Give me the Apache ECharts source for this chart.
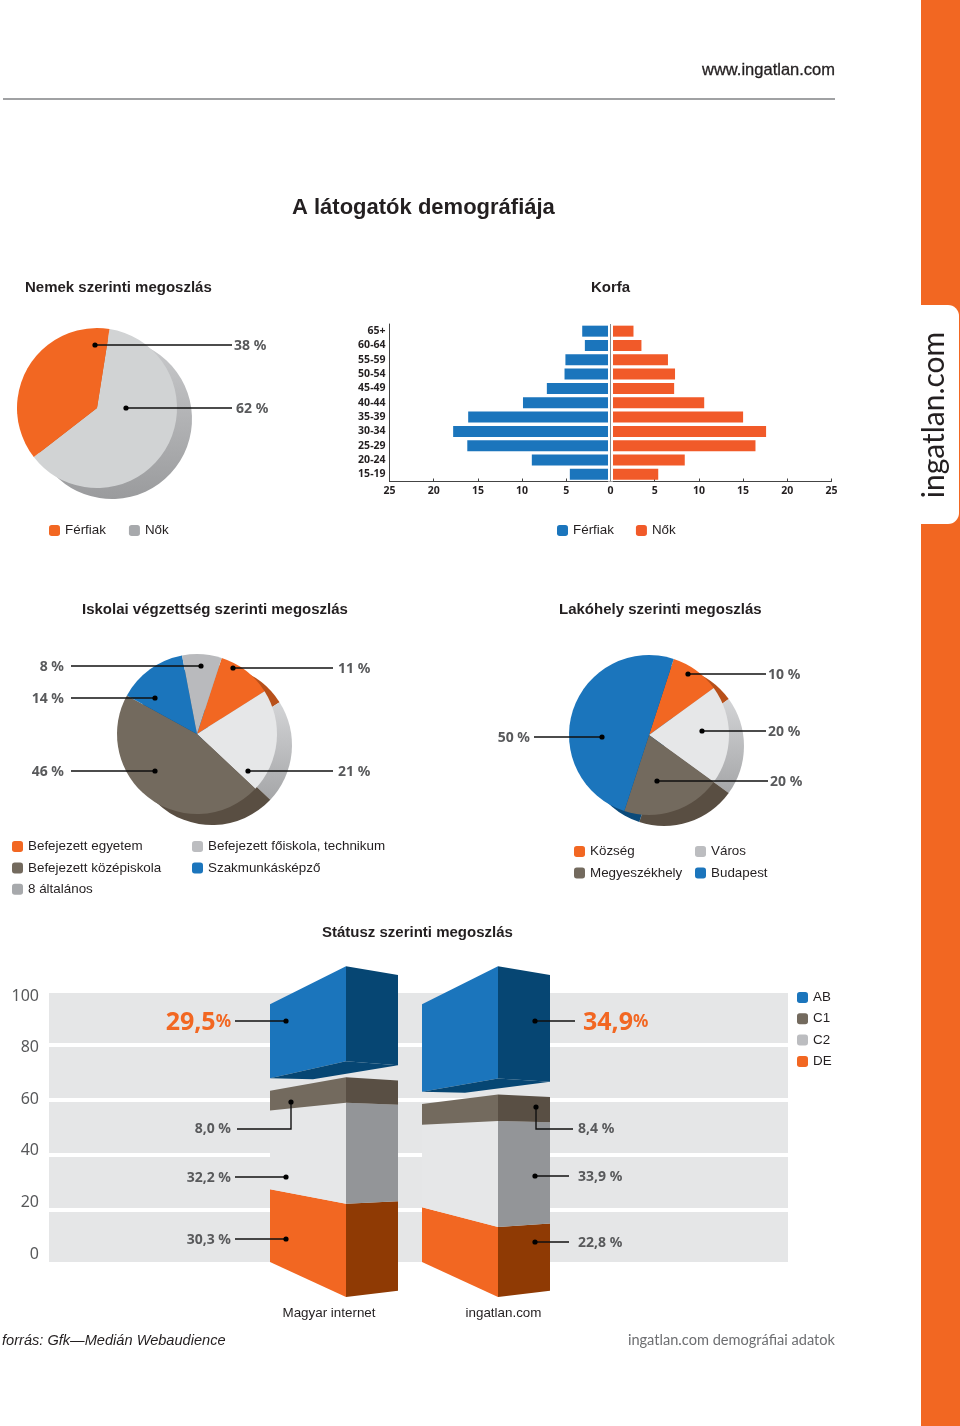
<!DOCTYPE html>
<html><head><meta charset="utf-8">
<style>html,body{margin:0;padding:0;background:#fff}#c{width:960px;height:1426px}</style>
<script src="https://cdn.jsdelivr.net/npm/echarts@6/dist/echarts.min.js"></script>
</head><body><div id="c"></div>
<script>
// ---- data ----
const genderNames = ['Nők', 'Férfiak'];
const genderValues = [62, 38];
const ageGroups = ['65+','60-64','55-59','50-54','45-49','40-44','35-39','30-34','25-29','20-24','15-19'];
const pyramidMen = [3.2,2.9,5.1,5.2,7.2,9.9,16.1,17.8,16.2,8.9,4.6];
const pyramidWomen = [2.6,3.5,6.5,7.3,7.2,10.6,15,17.6,16.4,8.4,5.4];
const eduNames = ['Befejezett egyetem','8 általános','Befejezett középiskola','Szakmunkásképző','Befejezett főiskola, technikum'];
const eduValues = [11, 21, 46, 14, 8];
const homeNames = ['Község','Város','Megyeszékhely','Budapest'];
const homeValues = [10, 20, 20, 50];
const statusCategories = ['Magyar internet','ingatlan.com'];
const statusDE = [30.3, 22.8];
const statusC2 = [32.2, 33.9];
const statusC1 = [8.0, 8.4];
const statusAB = [29.5, 34.9];
const statusTicks = [0,20,40,60,80,100];

// ---- style ----
const ORANGE='#f26722', PYR_ORANGE='#f15a29', BLUE='#1b75bc', BROWN='#736a5e', LGRAY='#e6e7e8', MGRAY='#bcbdc0', LEG_GRAY='#a7a9ac';
const TXT='#231f20', NUM='#58595b';
const HELV='"Liberation Sans", Arial, sans-serif', MYR='"Noto Sans", "Open Sans", sans-serif', HUM='Lato, "Noto Sans", sans-serif';
const vgrad=(a,b)=>({type:'linear',x:0,y:0,x2:0,y2:1,colorStops:[{offset:0,color:a},{offset:1,color:b}]});
const DEPTH=[15,11], R=80;

function pie3d(center,names,values,faces,sides,startAngle){
  const mk=(cols)=>names.map((n,i)=>({name:n,value:values[i],itemStyle:{color:cols[i]}}));
  const base={type:'pie',radius:R,startAngle,label:{show:false},labelLine:{show:false},silent:true,emphasis:{disabled:true},tooltip:{show:false}};
  return [
    {...base,z:1,center:[center[0]+DEPTH[0],center[1]+DEPTH[1]],data:mk(sides)},
    {...base,z:2,center:center,data:mk(faces)}
  ];
}

// perspective edges of the status columns, relative to a column's centre
const EDGES=[
 {dx:-64,dBase:0,k:0.8815,e:0.0003},
 {dx:12,dBase:35,k:1.13,e:0.000307},
 {dx:64,dBase:28.7,k:1.085,e:0.00025}
];
const GAP=5;
function statusSeries(name,front,side,values,starts,hasBottom){
  return {
    type:'custom',name,xAxisIndex:2,yAxisIndex:2,z:5,clip:false,silent:true,
    data:values.map((v,i)=>[i,starts[i],starts[i]+v]),
    encode:{x:0,y:[1,2]},
    renderItem(params,api){
      const c=api.coord([api.value(0),0]), unit=api.size([0,1])[1];
      const P=(e,v)=>[c[0]+e.dx, c[1]+e.dBase-unit*e.k*v*(1+e.e*v)];
      const s=api.value(1), t=api.value(2), [L,F,Rt]=EDGES;
      const kids=[
        {type:'polygon',shape:{points:[P(L,s),P(F,s),P(F,t),P(L,t)]},style:{fill:front}},
        {type:'polygon',shape:{points:[P(F,s),P(Rt,s),P(Rt,t),P(F,t)]},style:{fill:side}}
      ];
      if(hasBottom){
        const a=P(L,s),b=P(Rt,s);
        kids.push({type:'polygon',shape:{points:[a,P(F,s),b,[a[0]+43,a[1]+1]]},style:{fill:side}});
      }
      return {type:'group',children:kids};
    }
  };
}
const startsC2=statusDE.slice();
const startsC1=statusDE.map((v,i)=>v+statusC2[i]);
const startsAB=startsC1.map((v,i)=>v+statusC1[i]+GAP);

// ---- legends ----
function legend(left,top,orient,gap,items){
  return {show:true,left,top,orient,padding:0,itemGap:gap,itemWidth:11,itemHeight:11,icon:'roundRect',selectedMode:false,
    textStyle:{fontFamily:HELV,fontSize:13.4,color:TXT},
    data:items.map(([name,color])=>({name,itemStyle:{color,borderWidth:0}}))};
}

// ---- callouts ----
const pct=v=>v+' %';
const pct1=v=>v.toFixed(1).replace('.',',')+' %';
const gfx=[];
function line(pts){gfx.push({type:'polyline',z:100,silent:true,shape:{points:pts},style:{stroke:'#111',lineWidth:1.4,fill:null}});}
function dot(x,y){gfx.push({type:'circle',z:101,silent:true,shape:{cx:x,cy:y,r:2.6},style:{fill:'#000'}});}
function label(text,x,y,align){gfx.push({type:'text',z:100,silent:true,x,y:y+1,style:{text,font:'bold 14px '+MYR,fill:NUM,align,verticalAlign:'middle'}});}
function calloutR(text,dx,y,lineEnd,labelX){line([[dx,y],[lineEnd,y]]);dot(dx,y);label(text,labelX,y,'left');}
function calloutL(text,dx,y,lineStart,labelX){line([[lineStart,y],[dx,y]]);dot(dx,y);label(text,labelX,y,'right');}

calloutR(pct(genderValues[1]),95,345,232,234);
calloutR(pct(genderValues[0]),126,408,232,236);
calloutL(pct(eduValues[4]),201,666,71,64);
calloutL(pct(eduValues[3]),155,698,71,64);
calloutL(pct(eduValues[2]),155,771,71,64);
calloutR(pct(eduValues[0]),233,668,333,338);
calloutR(pct(eduValues[1]),248,771,333,338);
calloutL(pct(homeValues[3]),602,737,534,530);
calloutR(pct(homeValues[0]),688,674,766,768);
calloutR(pct(homeValues[1]),702,731,766,768);
calloutR(pct(homeValues[2]),657,781,768,770);
// status
calloutL(pct1(statusC2[0]),286,1177,235,231);
calloutL(pct1(statusDE[0]),286,1239,235,231);
calloutR(pct1(statusC2[1]),535,1176,569,578);
calloutR(pct1(statusDE[1]),535,1242,569,578);
line([[237,1129],[291,1129],[291,1102]]);dot(291,1102);label(pct1(statusC1[0]),231,1128,'right');
line([[573,1129],[536,1129],[536,1107]]);dot(536,1107);label(pct1(statusC1[1]),578,1128,'left');
line([[235,1021],[286,1021]]);dot(286,1021);
line([[535,1021],[575,1021]]);dot(535,1021);
const bigRich={a:{font:'bold 25px '+MYR,fill:ORANGE,verticalAlign:'middle'},b:{font:'bold 17px '+MYR,fill:ORANGE,verticalAlign:'middle'}};
const bigText=v=>'{a|'+v.toFixed(1).replace('.',',')+'}{b|%}';
gfx.push({type:'text',z:100,silent:true,x:231,y:1022.5,style:{text:bigText(statusAB[0]),rich:bigRich,align:'right',verticalAlign:'middle'}});
gfx.push({type:'text',z:100,silent:true,x:583,y:1022.5,style:{text:bigText(statusAB[1]),rich:bigRich,align:'left',verticalAlign:'middle'}});

// page furniture
gfx.push({type:'rect',z:-1,silent:true,shape:{x:921,y:0,width:39,height:1426},style:{fill:ORANGE}});
gfx.push({type:'rect',z:0,silent:true,shape:{x:915,y:305,width:44,height:219,r:[0,11,11,0]},style:{fill:'#fff'}});
gfx.push({type:'text',z:1,silent:true,x:934,y:415,rotation:Math.PI/2,style:{text:'ingatlan.com',font:'30px '+HUM,fill:TXT,align:'center',verticalAlign:'middle'}});
gfx.push({type:'line',z:1,silent:true,shape:{x1:3,y1:99,x2:835,y2:99},style:{stroke:'#808285',lineWidth:1.5}});
gfx.push({type:'text',z:1,silent:true,x:835,y:70.5,style:{text:'www.ingatlan.com',font:'16.5px '+HELV,fill:TXT,stroke:TXT,lineWidth:0.3,align:'right',verticalAlign:'middle'}});
gfx.push({type:'text',z:1,silent:true,x:2,y:1341,style:{text:'forrás: Gfk—Medián Webaudience',font:'italic 14.6px '+HELV,fill:TXT,align:'left',verticalAlign:'middle'}});
gfx.push({type:'text',z:1,silent:true,x:835,y:1340,style:{text:'ingatlan.com demográfiai adatok',font:'14.6px '+HUM,fill:'#6d6e71',align:'right',verticalAlign:'middle'}});

const head=(text,left,top)=>({text,left,top,padding:0,textStyle:{fontFamily:HELV,fontSize:15,fontWeight:'bold',color:TXT}});
const hideAxis={axisLine:{show:false},axisTick:{show:false},axisLabel:{show:false},splitLine:{show:false}};

const option={
  animation:false,backgroundColor:'#fff',
  title:[
    {text:'A látogatók demográfiája',left:292,top:197,padding:0,textStyle:{fontFamily:HELV,fontSize:22,fontWeight:'bold',color:TXT}},
    head('Nemek szerinti megoszlás',25,280),
    head('Korfa',591,280),
    head('Iskolai végzettség szerinti megoszlás',82,602),
    head('Lakóhely szerinti megoszlás',559,602),
    head('Státusz szerinti megoszlás',322,925)
  ],
  legend:[
    legend(49,524,'horizontal',23,[[genderNames[1],ORANGE],[genderNames[0],LEG_GRAY]]),
    legend(557,524,'horizontal',22,[['Férfiak',BLUE],['Nők',PYR_ORANGE]]),
    legend(12,840,'vertical',8.4,[[eduNames[0],ORANGE],[eduNames[2],BROWN],[eduNames[1],LEG_GRAY]]),
    legend(192,840,'vertical',8.4,[[eduNames[4],MGRAY],[eduNames[3],BLUE]]),
    legend(574,845,'vertical',8.5,[[homeNames[0],ORANGE],[homeNames[2],BROWN]]),
    legend(695,845,'vertical',8.5,[[homeNames[1],MGRAY],[homeNames[3],BLUE]]),
    legend(797,991,'vertical',8.3,[['AB',BLUE],['C1',BROWN],['C2',MGRAY],['DE',ORANGE]])
  ],
  grid:[
    {left:389.5,width:442,top:324,height:157.5},
    {show:true,left:49,width:739,top:990.5,height:273.5,backgroundColor:'#e5e6e7',borderWidth:0},
    {left:258,width:304,top:992,height:270},
    {left:49,width:739,top:996,height:258}
  ],
  xAxis:[
    {type:'value',gridIndex:0,min:-25,max:25,interval:5,
      axisLine:{show:true,lineStyle:{color:'#444',width:1}},
      axisTick:{show:true,inside:true,length:3,lineStyle:{color:'#444'}},
      axisLabel:{margin:4,fontFamily:MYR,fontWeight:'bold',fontSize:10.5,color:TXT,formatter:v=>String(Math.abs(v))},
      splitLine:{show:false}},
    {type:'value',gridIndex:1,min:0,max:100,...hideAxis},
    {type:'category',gridIndex:2,data:statusCategories,...hideAxis,
      axisLabel:{show:true,interval:0,hideOverlap:false,margin:45,color:TXT,fontFamily:HELV,fontSize:13.4,
        formatter:(v,i)=>i===0?'{a|'+v+'}':'{b|'+v+'}',
        rich:{a:{padding:[0,10,0,0],fontFamily:HELV,fontSize:13.4,color:TXT},b:{padding:[0,0,0,35],fontFamily:HELV,fontSize:13.4,color:TXT}}}},
    {type:'value',gridIndex:3,min:0,max:100,...hideAxis}
  ],
  yAxis:[
    {type:'category',gridIndex:0,data:ageGroups,inverse:true,
      axisLine:{show:true,onZero:false,lineStyle:{color:'#444',width:1}},axisTick:{show:false},
      axisLabel:{margin:4,fontFamily:MYR,fontWeight:'bold',fontSize:10.5,color:TXT},splitLine:{show:false}},
    {type:'value',gridIndex:1,min:0,max:100,interval:20,...hideAxis,splitLine:{show:true,lineStyle:{color:'#fff',width:4}}},
    {type:'value',gridIndex:2,min:0,max:100,...hideAxis},
    {type:'value',gridIndex:3,min:0,max:100,interval:20,...hideAxis,
      axisLabel:{show:true,margin:10,fontFamily:MYR,fontSize:16,color:NUM,
        customValues:statusTicks}}
  ],
  series:[
    ...pie3d([97,408],genderNames,genderValues,['#d1d3d4',ORANGE],[vgrad('#c9cacc','#9a9b9d'),'#c8561a'],81),
    {type:'bar',name:'Férfiak',xAxisIndex:0,yAxisIndex:0,stack:'k',barWidth:11,silent:true,itemStyle:{color:BLUE},
      data:pyramidMen.map(v=>-v),
      markLine:{silent:true,symbol:'none',label:{show:false},lineStyle:{color:'#fff',width:5,type:'solid'},data:[{xAxis:0}]}},
    {type:'bar',name:'Nők',xAxisIndex:0,yAxisIndex:0,stack:'k',barWidth:11,silent:true,itemStyle:{color:PYR_ORANGE},
      data:pyramidWomen,z:3,
      markLine:{silent:true,symbol:'none',label:{show:false},z:6,lineStyle:{color:'#8a8c8e',width:1,type:'solid'},data:[{xAxis:0}]}},
    ...pie3d([197,734],eduNames,eduValues,[ORANGE,LGRAY,BROWN,BLUE,'#b9babd'],['#b8501a',vgrad('#d3d4d6','#a5a6a8'),'#594e42','#0b4a7a','#999'],72),
    ...pie3d([649,735],homeNames,homeValues,[ORANGE,LGRAY,BROWN,BLUE],['#b8501a',vgrad('#d3d4d6','#a5a6a8'),'#594e42','#0b4a7a'],72),
    statusSeries('DE',ORANGE,'#8f3a04',statusDE,[0,0],false),
    statusSeries('C2',LGRAY,'#939598',statusC2,startsC2,false),
    statusSeries('C1',BROWN,'#594f44',statusC1,startsC1,false),
    statusSeries('AB',BLUE,'#064673',statusAB,startsAB,true)
  ],
  graphic:{elements:gfx}
};
const chart=echarts.init(document.getElementById('c'),null,{renderer:'canvas',width:960,height:1426});
chart.setOption(option);
</script></body></html>
